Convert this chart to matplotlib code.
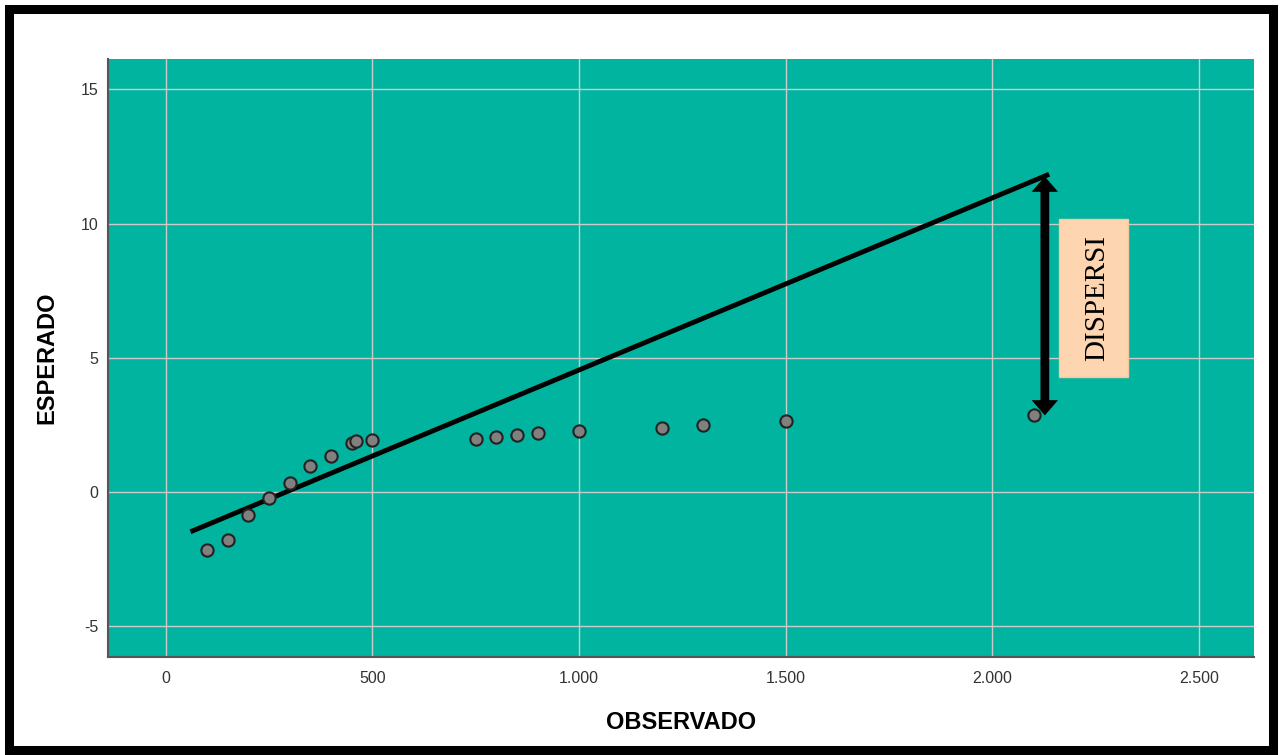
import matplotlib
matplotlib.use("Agg")
import matplotlib.pyplot as plt
from matplotlib.patches import Rectangle, FancyArrowPatch
from matplotlib.ticker import FuncFormatter

plt.rcParams['font.family'] = ['Liberation Sans', 'DejaVu Sans']
plt.rcParams['axes.unicode_minus'] = False

# observed vs expected values
observado = [100, 150, 200, 250, 300, 350, 400, 450, 460, 500,
             750, 800, 850, 900, 1000, 1200, 1300, 1500, 2100]
esperado = [-2.16, -1.79, -0.86, -0.22, 0.34, 0.97, 1.34, 1.82, 1.90, 1.94,
            1.97, 2.05, 2.13, 2.20, 2.27, 2.38, 2.50, 2.64, 2.87]

# reference line end points
line_x = [65, 2132]
line_y = [-1.45, 11.8]

# dispersion arrow (top and bottom tips)
arrow_x = 2127
arrow_y = [11.75, 2.85]

# label box
box_x = [2161, 2328]
box_y = [4.28, 10.17]
box_text = "DISPERSI"

x_ticks = [0, 500, 1000, 1500, 2000, 2500]
y_ticks = [-5, 0, 5, 10, 15]

fig = plt.figure(figsize=(12.84, 7.55), dpi=100)
ax = fig.add_axes([0.0841, 0.1298, 0.8925, 0.7921])

ax.set_facecolor("#00B4A0")
ax.set_xlim(-140, 2633)
ax.set_ylim(-6.15, 16.13)
ax.set_xticks(x_ticks)
ax.set_yticks(y_ticks)
ax.xaxis.set_major_formatter(FuncFormatter(lambda v, p: f"{int(v):,}".replace(",", ".")))
ax.grid(True, color="#CBCBCB", linewidth=1.0)
ax.set_axisbelow(True)
ax.tick_params(length=0, labelsize=11.5, colors="#333333")
ax.tick_params(axis="y", pad=7)
ax.tick_params(axis="x", pad=10)

for s in ["top", "right"]:
    ax.spines[s].set_visible(False)
for s in ["left", "bottom"]:
    ax.spines[s].set_color("#555555")
    ax.spines[s].set_linewidth(1.5)

ax.plot(line_x, line_y, color="black", linewidth=3.5, zorder=3)
ax.scatter(observado, esperado, s=78, color="#808080", edgecolors="#222222",
           linewidths=1.5, zorder=4)

# double headed arrow made of two filled arrows from the middle
mid_y = (arrow_y[0] + arrow_y[1]) / 2
for tip in arrow_y:
    ax.add_patch(FancyArrowPatch((arrow_x, mid_y), (arrow_x, tip),
                                 arrowstyle="simple,head_length=11,head_width=19,tail_width=6.3",
                                 mutation_scale=1, shrinkA=0, shrinkB=0,
                                 facecolor="black", edgecolor="none", zorder=5))

ax.add_patch(Rectangle((box_x[0], box_y[0]), box_x[1] - box_x[0], box_y[1] - box_y[0],
                       facecolor="#FDD5B1", edgecolor="#F6C89C", linewidth=1, zorder=5))
ax.text(sum(box_x) / 2 + 8, sum(box_y) / 2, box_text, rotation=90, ha="center", va="center",
        fontsize=21, family="Liberation Serif", color="black", zorder=6)

ax.set_xlabel("OBSERVADO", fontsize=17, fontweight="bold", labelpad=18)
ax.set_ylabel("ESPERADO", fontsize=17, fontweight="bold", labelpad=16)

# black frame around the figure
fig.patches.append(Rectangle((8.5 / 1284, 5.5 / 755), 1264 / 1284, 741 / 755,
                             transform=fig.transFigure, fill=False,
                             edgecolor="black", linewidth=6.5))

fig.savefig("out.png", dpi=100)
